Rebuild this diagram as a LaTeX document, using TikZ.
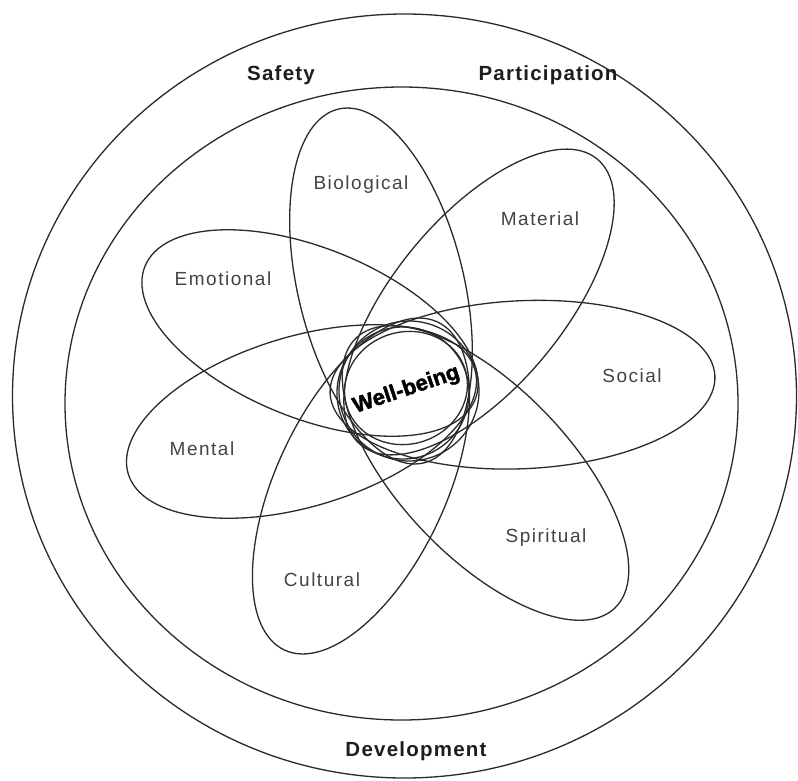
\documentclass[tikz,border=0pt]{standalone}
\usepackage{fontspec}
\setmainfont{Liberation Sans}
\newfontfamily\labfont[LetterSpace=8]{Liberation Sans}
\newfontfamily\headfont[LetterSpace=6]{Liberation Sans}
\newfontfamily\wbfont[BoldFeatures={FakeBold=1.8}]{Liberation Sans}
\definecolor{linec}{HTML}{2A2A2A}
\definecolor{labc}{HTML}{444444}
\definecolor{headc}{HTML}{1E1E1E}
\tikzset{
  ring/.style={draw=linec, line width=1.3pt},
  petal/.style={draw=linec, line width=1.3pt},
  lab/.style={text=labc, font=\labfont\fontsize{19}{22}\selectfont, inner sep=0pt, anchor=base},
  head/.style={text=headc, font=\headfont\bfseries\fontsize{20.5}{24}\selectfont, inner sep=0pt, anchor=base},
  wb/.style={text=black, font=\wbfont\bfseries\fontsize{22}{24}\selectfont, inner sep=0pt}
}
\begin{document}
\begin{tikzpicture}[x=1pt,y=-1pt]
\useasboundingbox (0,0) rectangle (798,780);
\fill[white] (0,0) rectangle (798,780);
% outer and inner rings
\draw[ring] (404.5,396) ellipse [x radius=392, y radius=382];
\draw[ring] (401.5,403.5) ellipse [x radius=336.5, y radius=316.5];
% petals
\draw[petal, rotate around={2.6:(522.5,384.7)}] (522.5,384.7) ellipse [x radius=192.6, y radius=84];
\draw[petal, rotate around={103.6:(381,286)}] (381,286) ellipse [x radius=182, y radius=83];
\draw[petal, rotate around={50.4:(479,302)}] (479,302) ellipse [x radius=185.5, y radius=85];
\draw[petal, rotate around={-22:(310,333)}] (310,333) ellipse [x radius=178, y radius=85];
\draw[petal, rotate around={16.8:(301.5,421.5)}] (301.5,421.5) ellipse [x radius=181, y radius=85];
\draw[petal, rotate around={65:(361,486)}] (361,486) ellipse [x radius=181, y radius=85];
\draw[petal, rotate around={-46.2:(485.5,473)}] (485.5,473) ellipse [x radius=187, y radius=85];
% central rings
\draw[ring, rotate around={18:(406,388)}] (406,388) ellipse [x radius=62, y radius=56];
\draw[ring] (403,393) circle [radius=66];
\draw[ring] (409,391) circle [radius=70];
% labels
\node[lab] (bio) at (361,189) {Biological};
\node[lab] (mat) at (540,225) {Material};
\node[lab] (emo) at (223,285) {Emotional};
\node[lab] (men) at (202,455) {Mental};
\node[lab] (soc) at (632,382) {Social};
\node[lab] (spi) at (546,542) {Spiritual};
\node[lab] (cul) at (322,586) {Cultural};
\node[head] (saf) at (281,80.5) {Safety};
\node[head] (par) at (548,80.5) {Participation};
\node[head] (dev) at (416,756.5) {Development};
\node[wb, rotate=18.6] (wel) at (406.5,390) {Well-being};
\end{tikzpicture}
\end{document}
